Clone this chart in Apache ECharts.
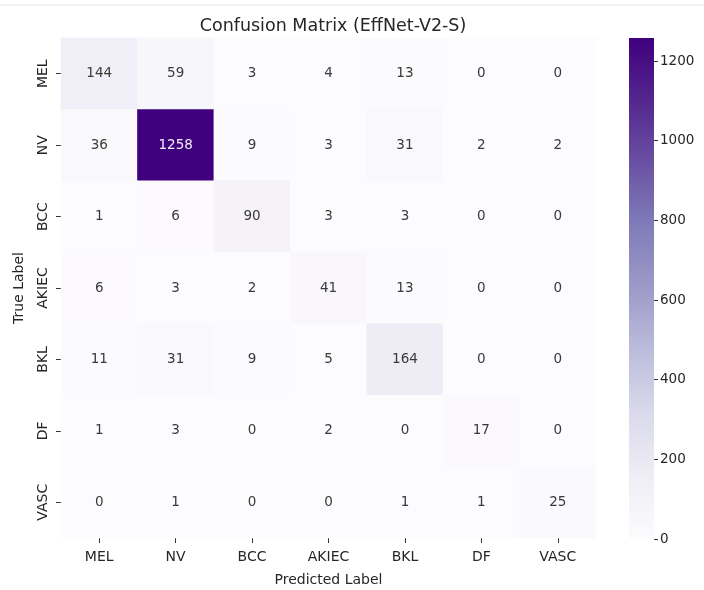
<!DOCTYPE html>
<html>
<head>
<meta charset="utf-8">
<script src="https://cdn.jsdelivr.net/npm/echarts@6/dist/echarts.min.js"></script>
<style>html,body{margin:0;padding:0;background:#fff;}#c{width:704px;height:590px;}</style>
</head>
<body>
<div id="c"></div>
<script>
const classes = ['MEL', 'NV', 'BCC', 'AKIEC', 'BKL', 'DF', 'VASC'];
const rowMEL   = [144, 59, 3, 4, 13, 0, 0];
const rowNV    = [36, 1258, 9, 3, 31, 2, 2];
const rowBCC   = [1, 6, 90, 3, 3, 0, 0];
const rowAKIEC = [6, 3, 2, 41, 13, 0, 0];
const rowBKL   = [11, 31, 9, 5, 164, 0, 0];
const rowDF    = [1, 3, 0, 2, 0, 17, 0];
const rowVASC  = [0, 1, 0, 0, 1, 1, 25];
const colorbarTicks = [0, 200, 400, 600, 800, 1000, 1200];
const purples = ['#fcfbfd','#efedf5','#dadaeb','#bcbddc','#9e9ac8','#807dba','#6a51a3','#54278f','#3f007d'];

const rows = [rowMEL, rowNV, rowBCC, rowAKIEC, rowBKL, rowDF, rowVASC];
let vmax = 0;
rows.forEach(r => r.forEach(v => { if (v > vmax) vmax = v; }));
const data = [];
rows.forEach((r, yi) => r.forEach((v, xi) => {
  data.push({ value: [xi, yi, v], label: { color: v > vmax * 0.6 ? '#f4eefa' : '#3a3a3a' } });
}));

const font = 'DejaVu Sans';
const chart = echarts.init(document.getElementById('c'));
chart.setOption({
  backgroundColor: '#ffffff',
  animation: false,
  title: {
    text: 'Confusion Matrix (EffNet-V2-S)',
    left: 328, top: 12, textAlign: 'center',
    textStyle: { fontFamily: font, fontSize: 17.5, fontWeight: 'normal', color: '#262626' }
  },
  graphic: [{
    type: 'line', shape: { x1: 0, y1: 5, x2: 704, y2: 5 },
    style: { stroke: '#e6e6e6', lineWidth: 1 }, silent: true
  }],
  grid: [
    { left: 61, top: 38, width: 535, height: 500, outerBoundsMode: 'none', containLabel: false },
    { left: 629, top: 38, width: 25, height: 501, outerBoundsMode: 'none', containLabel: false }
  ],
  xAxis: [{
    type: 'category', gridIndex: 0, data: classes,
    name: 'Predicted Label', nameLocation: 'middle', nameGap: 35,
    nameTextStyle: { fontFamily: font, fontSize: 14, color: '#262626' },
    axisLine: { show: false },
    axisTick: { show: true, alignWithLabel: true, length: 5, lineStyle: { color: '#333' } },
    axisLabel: { fontFamily: font, fontSize: 14, color: '#262626', margin: 12 },
    splitLine: { show: false }
  }, {
    type: 'category', gridIndex: 1, data: ['c'], show: false
  }],
  yAxis: [{
    type: 'category', gridIndex: 0, data: classes, inverse: true,
    name: 'True Label', nameLocation: 'middle', nameGap: 35, nameRotate: 90,
    nameTextStyle: { fontFamily: font, fontSize: 14, color: '#262626' },
    axisLine: { show: false },
    axisTick: { show: true, alignWithLabel: true, length: 5, lineStyle: { color: '#333' } },
    axisLabel: { fontFamily: font, fontSize: 14, color: '#262626', rotate: 90, margin: 11 },
    splitLine: { show: false }
  }, {
    type: 'value', gridIndex: 1, position: 'right', min: 0, max: vmax,
    axisLine: { show: false },
    splitLine: { show: false },
    axisTick: { show: true, length: 4, lineStyle: { color: '#333' }, customValues: colorbarTicks },
    axisLabel: { fontFamily: font, fontSize: 13.5, color: '#262626', margin: 6, customValues: colorbarTicks,
      formatter: v => String(v) }
  }],
  visualMap: {
    show: false, type: 'continuous', min: 0, max: vmax, seriesIndex: 0, dimension: 2,
    inRange: { color: purples }
  },
  series: [{
    type: 'heatmap', xAxisIndex: 0, yAxisIndex: 0, data: data,
    label: { show: true, fontFamily: font, fontSize: 13.5 },
    itemStyle: { borderWidth: 0 },
    emphasis: { disabled: true }
  }, {
    type: 'bar', xAxisIndex: 1, yAxisIndex: 1, data: [vmax], barWidth: '100%',
    itemStyle: {
      color: new echarts.graphic.LinearGradient(0, 0, 0, 1,
        purples.slice().reverse().map((c, i) => ({ offset: i / (purples.length - 1), color: c })))
    },
    silent: true
  }]
});
</script>
</body>
</html>
